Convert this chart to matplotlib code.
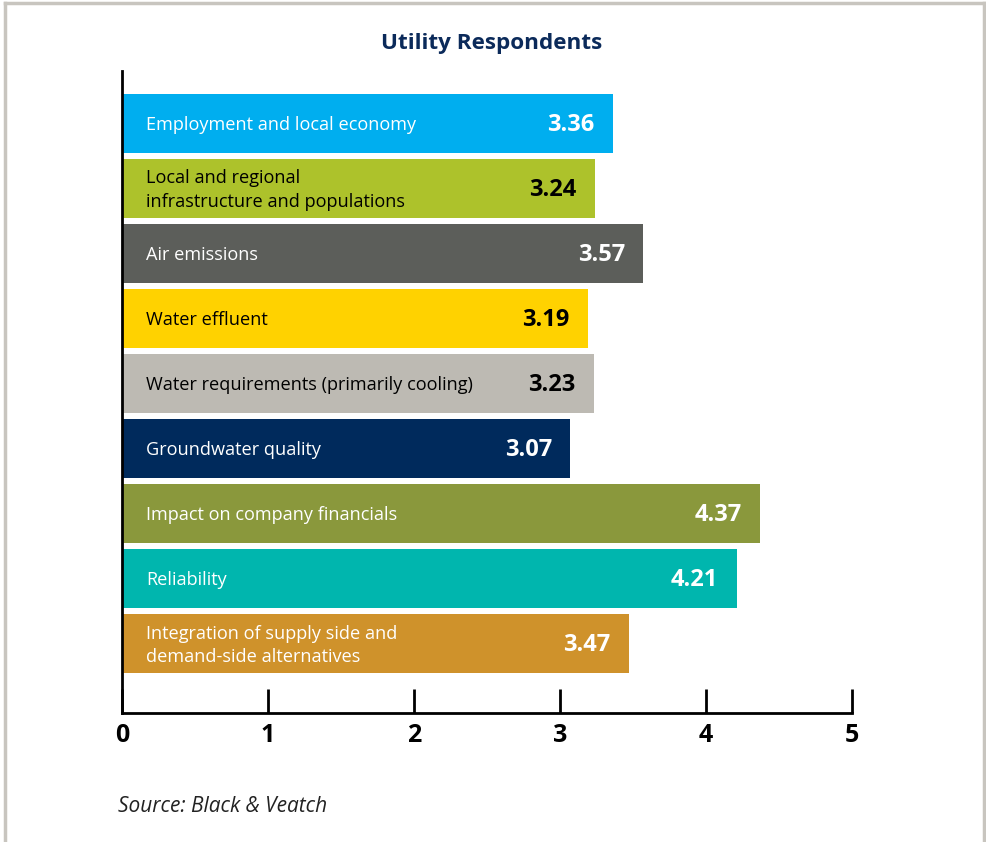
import matplotlib.pyplot as plt
from matplotlib.lines import Line2D

plt.rcParams['font.family'] = ['Open Sans', 'DejaVu Sans']

# Data
categories = ['Employment and local economy',
              'Local and regional\ninfrastructure and populations',
              'Air emissions',
              'Water effluent',
              'Water requirements (primarily cooling)',
              'Groundwater quality',
              'Impact on company financials',
              'Reliability',
              'Integration of supply side and\ndemand-side alternatives']
values = [3.36, 3.24, 3.57, 3.19, 3.23, 3.07, 4.37, 4.21, 3.47]
colors = ['#00AEEF', '#ADC22B', '#5C5E5A', '#FFD200', '#BDBAB3',
          '#002A5C', '#8A983C', '#00B6AE', '#CF922B']
text_colors = ['white', 'black', 'white', 'black', 'black',
               'white', 'white', 'white', 'white']
xticks = [0, 1, 2, 3, 4, 5]

fig = plt.figure(figsize=(9.86, 8.42), dpi=100)
ax = fig.add_axes([122 / 986, 1 - 713 / 842, 730 / 986, 642 / 842])

ypos = list(range(len(values)))
ax.barh(ypos, values, height=0.9, color=colors, zorder=2)
ax.set_ylim(9.07, -0.805)
ax.set_xlim(0, 5)

for i, (cat, v) in enumerate(zip(categories, values)):
    ax.text(0.164, i + 0.03, cat, va='center', ha='left', fontsize=13.1,
            color=text_colors[i], linespacing=1.4)
    ax.text(v - 0.125, i + 0.03, f'{v:.2f}', va='center', ha='right',
            fontsize=17, fontweight='bold', color=text_colors[i])

for s in ['top', 'right']:
    ax.spines[s].set_visible(False)
ax.spines['left'].set_linewidth(2)
ax.spines['bottom'].set_linewidth(2)
ax.set_yticks([])
ax.set_xticks(xticks)
ax.tick_params(axis='x', direction='in', length=17, width=2, pad=7,
               labelsize=18)
for lab in ax.get_xticklabels():
    lab.set_fontweight('bold')

fig.text(492 / 986, 1 - 43 / 842, 'Utility Respondents', ha='center',
         va='center', fontsize=16.2, fontweight='bold', color='#0B2A5A')
fig.text(118 / 986, 1 - 807 / 842, 'Source: Black & Veatch', ha='left',
         va='center', fontsize=15, style='italic', color='#222222')

# gray frame
frame_c = '#C8C5BF'
fig.add_artist(Line2D([5 / 986, 5 / 986], [0, 1 - 3 / 842], color=frame_c, lw=2.5))
fig.add_artist(Line2D([984 / 986, 984 / 986], [0, 1 - 3 / 842], color=frame_c, lw=2.5))
fig.add_artist(Line2D([5 / 986, 984 / 986], [1 - 3 / 842, 1 - 3 / 842], color=frame_c, lw=2.5))

fig.savefig('out.png', dpi=100)
